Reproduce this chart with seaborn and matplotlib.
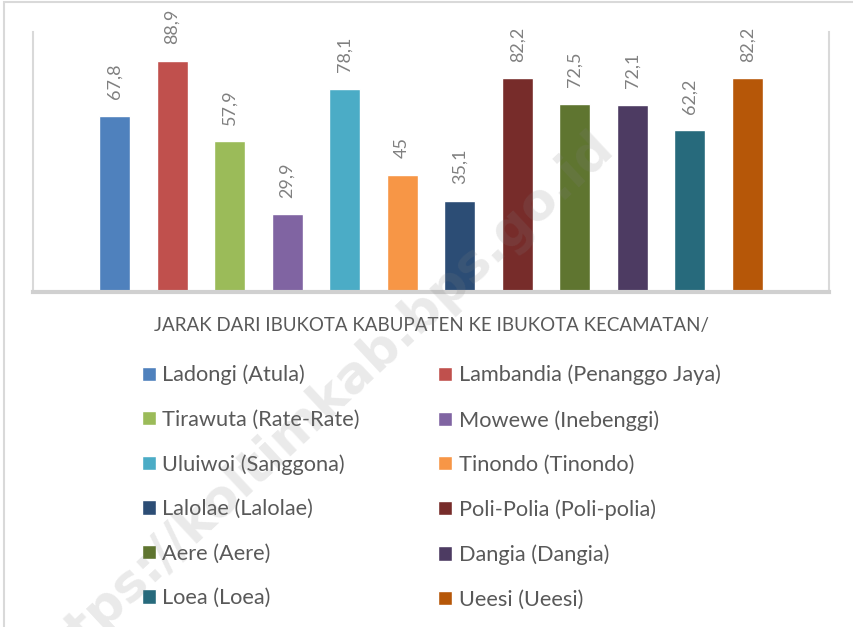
import pandas as pd
import seaborn as sns
import matplotlib.pyplot as plt
from matplotlib.patches import Rectangle

# data
kategori = ["JARAK DARI IBUKOTA KABUPATEN KE IBUKOTA KECAMATAN/"]
kecamatan = ["Ladongi (Atula)", "Lambandia (Penanggo Jaya)", "Tirawuta (Rate-Rate)",
             "Mowewe (Inebenggi)", "Uluiwoi (Sanggona)", "Tinondo (Tinondo)",
             "Lalolae (Lalolae)", "Poli-Polia (Poli-polia)", "Aere (Aere)",
             "Dangia (Dangia)", "Loea (Loea)", "Ueesi (Ueesi)"]
jarak = [67.8, 88.9, 57.9, 29.9, 78.1, 45, 35.1, 82.2, 72.5, 72.1, 62.2, 82.2]
warna = ["#4F81BD", "#C0504D", "#9BBB59", "#8064A2", "#4BACC6", "#F79646",
         "#2C4D75", "#772C2A", "#5F7530", "#4D3B62", "#276A7C", "#B65708"]

df = pd.DataFrame({"kategori": kategori * len(kecamatan),
                   "kecamatan": kecamatan,
                   "jarak": jarak})

sns.set_style("white")
plt.rcParams['font.family'] = ['Lato', 'DejaVu Sans']

fig = plt.figure(figsize=(8.54, 6.27), dpi=100)
ax = fig.add_axes([33 / 854, 1 - 292 / 627, (829 - 33) / 854, (292 - 32) / 627])

sns.barplot(data=df, x="kategori", y="jarak", hue="kecamatan", hue_order=kecamatan,
            palette=warna, saturation=1, width=0.867, gap=0.46, legend=False, ax=ax)

for cont, v in zip(ax.containers, jarak):
    ax.bar_label(cont, labels=[f"{v:g}".replace(".", ",")], rotation=90,
                 padding=12, fontsize=13, color="#808080")

ax.set_xlim(-0.5, 0.5)
ax.set_ylim(0, 100)
ax.set_yticks([])
ax.set_xlabel("")
ax.set_ylabel("")
ax.tick_params(axis="x", length=0, pad=18, labelsize=13.5, labelcolor="#595959")
ax.spines["top"].set_visible(False)
for s in ["left", "right"]:
    ax.spines[s].set_color("#d9d9d9")
    ax.spines[s].set_linewidth(1.5)
ax.spines["bottom"].set_color("#d0d0d0")
ax.spines["bottom"].set_linewidth(3)

# legend, filled row by row like the original
handles = [c.patches[0] for c in ax.containers]
urut = list(range(0, 12, 2)) + list(range(1, 12, 2))
fig.legend([handles[i] for i in urut], [kecamatan[i] for i in urut],
           ncol=2, frameon=False, loc="upper left",
           bbox_to_anchor=(131 / 854, 1 - 354 / 627), fontsize=15.7,
           labelcolor="#595959", handlelength=0.64, handleheight=0.64,
           handletextpad=0.3, labelspacing=1.12, columnspacing=3.6, borderpad=0)

# outer chart border
fig.patches.append(Rectangle((4 / 854, -0.05), 1.1, 1 - 2 / 627 + 0.05,
                             transform=fig.transFigure, fill=False,
                             edgecolor="#d9d9d9", linewidth=1.5))

# watermark
fig.text(318 / 854, 1 - 408 / 627, "https://koltimkab.bps.go.id", rotation=43,
         ha="center", va="center", fontsize=37, fontweight="bold",
         color="#808080", alpha=0.17, zorder=10, family="DejaVu Sans")

fig.savefig("out.png", dpi=100)
